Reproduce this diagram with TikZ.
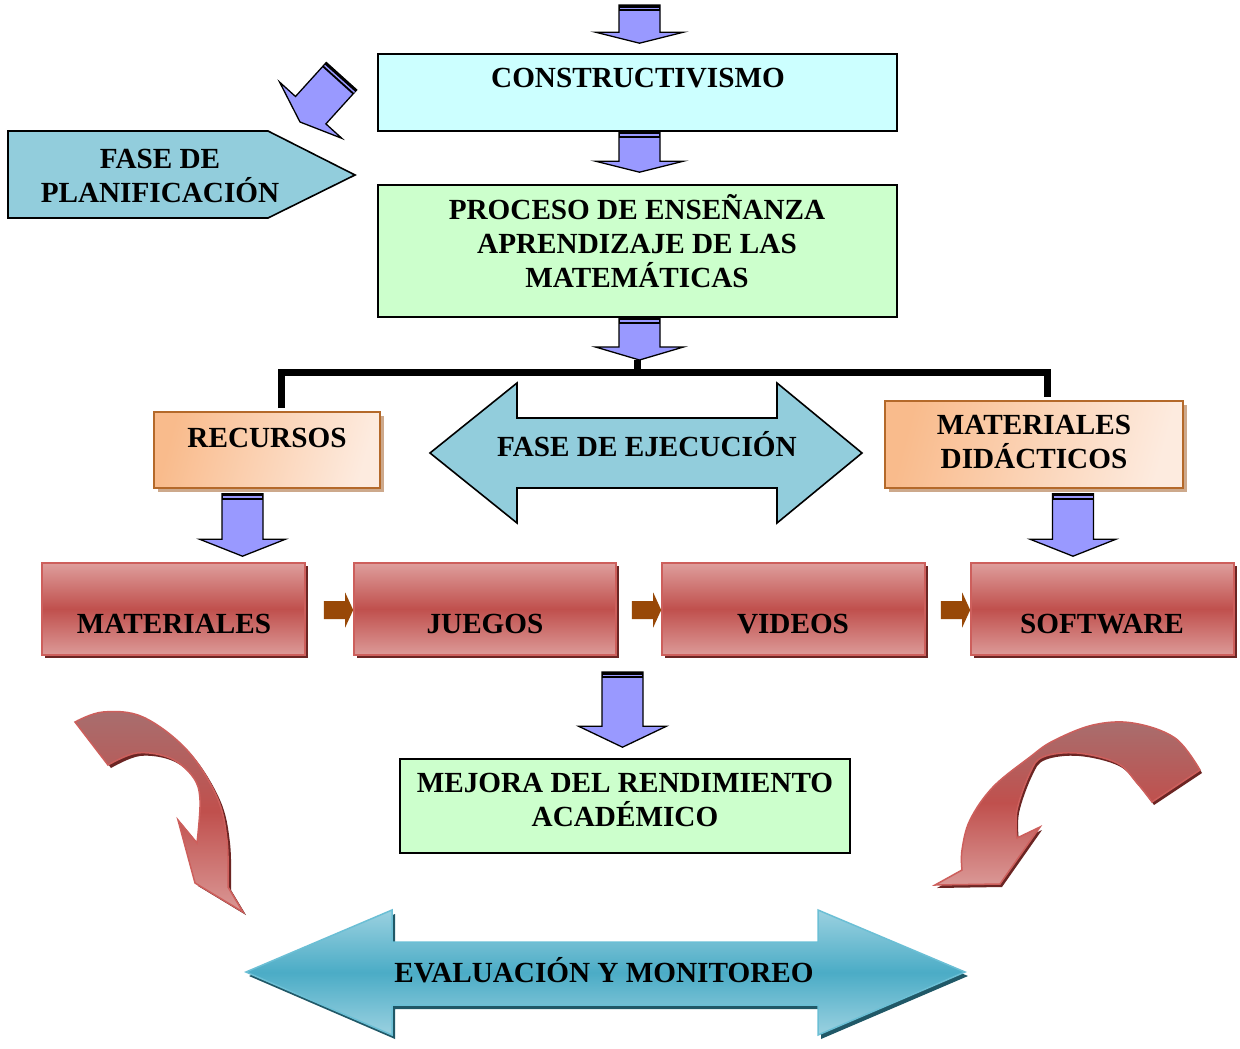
\documentclass[tikz,border=0pt]{standalone}
\usepackage{fontspec}
\setmainfont{Liberation Serif}
\usetikzlibrary{calc,shadows}
\definecolor{arrblue}{HTML}{9999FF}
\definecolor{cyanbox}{HTML}{CCFFFF}
\definecolor{greenbox}{HTML}{CCFFCC}
\definecolor{tealfill}{HTML}{92CDDC}
\definecolor{brownarr}{HTML}{984807}
\definecolor{orA}{HTML}{F9BB8C}
\definecolor{orB}{HTML}{FDEBDF}
\definecolor{orline}{HTML}{B4692A}
\definecolor{orshadow}{HTML}{CDA98C}
\definecolor{redtop}{HTML}{DE9E9C}
\definecolor{redmid}{HTML}{C0504D}
\definecolor{redbot}{HTML}{DC9A98}
\definecolor{redline}{HTML}{CD5F5C}
\definecolor{redshadow}{HTML}{6B2523}
\definecolor{curvetop}{HTML}{A86E6E}
\definecolor{curvebot}{HTML}{DA9896}
\definecolor{evtop}{HTML}{9BD1E0}
\definecolor{evmid}{HTML}{4BACC6}
\definecolor{evline}{HTML}{6BBFD5}
\definecolor{evshadow}{HTML}{205867}

\newcommand\vblockarrow[4]{%
  \draw[blockarr] let \p1=#1, \p2=#2 in
    (\x1-20.5bp,\y1) -- (\x1+20.5bp,\y1) -- (\x1+20.5bp,\y2+#3) -- (\x1+#4,\y2+#3)
    -- (\x1,\y2) -- (\x1-#4,\y2+#3) -- (\x1-20.5bp,\y2+#3) -- cycle;
  \fill let \p1=#1 in (\x1-20.5bp,\y1) rectangle (\x1+20.5bp,\y1-6bp);
  \draw[arrblue, line width=1.4bp] let \p1=#1 in (\x1-19.5bp,\y1-3.3bp) -- (\x1+19.5bp,\y1-3.3bp);
}
\newcommand\hsmallarrow[2]{%
  \fill[brownarr] let \p1=#1, \p2=#2 in
    (\x1,\y1+9bp) -- (\x2-8bp,\y1+9bp) -- (\x2-8bp,\y1+17.5bp) -- (\x2,\y1)
    -- (\x2-8bp,\y1-17.5bp) -- (\x2-8bp,\y1-9bp) -- (\x1,\y1-9bp) -- cycle;
}
\newcommand\evshape{(246,972) -- (392,910) -- (392,942) -- (818,942) -- (818,910) -- (965,972) -- (818,1035) -- (818,1005) -- (392,1005) -- (392,1035) -- cycle}
\newcommand\lcurve{plot[smooth,tension=0.6] coordinates {(75,722) (103,712) (143,717) (187,750) (217,797) (227,840) (228,887)} -- (243,912) -- (195,883) -- (178,820) -- (197,843) -- plot[smooth,tension=0.6] coordinates {(197,843) (200,800) (193,777) (170,758) (137,753) (108,765)} -- cycle}
\newcommand\rcurve{plot[smooth,tension=0.6] coordinates {(1200,770) (1175,738) (1133,723) (1093,725) (1053,741) (1030,757) (993,787) (970,820) (962,850) (962,870)} -- (935,885) -- (1000,884) -- (1040,827) -- (1017,838) -- plot[smooth,tension=0.6] coordinates {(1017,838) (1017,810) (1030,773) (1043,757) (1077,753) (1117,763) (1137,783) (1152,802)} -- cycle}

\tikzset{
 txt/.style={font=\bfseries\fontsize{29.2bp}{34bp}\selectfont, align=center, inner sep=0pt, text=black},
 plainbox/.style={draw=black, line width=1.6bp, inner sep=0pt},
 redbox/.style={draw=redline, line width=1.6bp, top color=redtop, bottom color=redbot, middle color=redmid, minimum height=92bp, inner sep=0pt, drop shadow={shadow xshift=3bp, shadow yshift=-3bp, fill=redshadow, opacity=1}},
 orbox/.style={draw=orline, line width=1.6bp, left color=orA, right color=orB, shading angle=75, inner sep=0pt, drop shadow={shadow xshift=4bp, shadow yshift=-4bp, fill=orshadow, opacity=1}},
 blockarr/.style={draw=black, line width=1.3bp, fill=arrblue, line join=miter},
 bracket/.style={line width=7bp, line join=miter},
}

\begin{document}
\begin{tikzpicture}[x=1bp,y=-1bp]
\fill[white] (0,0) rectangle (1240,1049);
\useasboundingbox (0,0) rectangle (1240,1049);

% boxes
\node[plainbox, fill=cyanbox, minimum width=519bp, minimum height=77bp] (cons) at (637.5,92.5) {};
\node[plainbox, fill=greenbox, minimum width=519bp, minimum height=132bp] (proc) at (637.5,251) {};
\node[plainbox, fill=greenbox, minimum width=450bp, minimum height=94bp] (mej) at (625,806) {};

\coordinate (hub) at (637,372);
\node[orbox, minimum width=226bp, minimum height=76bp] (rec) at (267,450) {};
\node[orbox, minimum width=298bp, minimum height=87bp] (md) at (1034,444.5) {};
% bracket
\draw[bracket] ($(rec.north)+(14,-3)$) |- (hub) -| ($(md.north)+(13,-3)$);
\draw[bracket] (hub) -- ++(0,-12);

\node[redbox, minimum width=263bp] (mat) at (173.5,609) {};
\node[redbox, minimum width=262bp] (jue) at (485,609) {};
\node[redbox, minimum width=263bp] (vid) at (793.5,609) {};
\node[redbox, minimum width=263bp] (sof) at (1102.5,609) {};

% small brown arrows
\hsmallarrow{($(mat.east)+(18,1)$)}{(jue.west)}
\hsmallarrow{($(jue.east)+(15,1)$)}{(vid.west)}
\hsmallarrow{($(vid.east)+(15,1)$)}{(sof.west)}

% blue block arrows
\coordinate (topstart) at (639.5,5);
\coordinate (mejstart) at (622.5,672);
\vblockarrow{(topstart)}{($(cons.north)+(0,-10)$)}{11bp}{44bp}
\vblockarrow{($(cons.south)+(2,0)$)}{($(proc.north)+(0,-12)$)}{11bp}{44bp}
\vblockarrow{($(proc.south)+(2,0)$)}{($(hub)+(0,-12)$)}{13bp}{44bp}
\vblockarrow{($(rec.south)+(-24.5,5)$)}{($(mat.north)+(0,-6)$)}{17bp}{43bp}
\vblockarrow{($(md.south)+(39,5)$)}{($(sof.north)+(0,-6)$)}{17bp}{43bp}
\vblockarrow{(mejstart)}{($(mej.north)+(0,-11)$)}{21bp}{44bp}

% diagonal arrow
\draw[blockarr] (356.7,89.9) -- (326.3,62.5) -- (295.5,96.5) -- (279.6,82.1) -- (300,122) -- (341.8,138.3) -- (325.9,123.9) -- cycle;
\fill (356.7,89.9) -- (326.3,62.5) -- (322.3,66.9) -- (352.7,94.3) -- cycle;
\draw[arrblue, line width=1.4bp] (324.6,65.4) -- (354.5,92.3);

% planning pentagon
\draw[fill=tealfill, line width=1.6bp, line join=miter] (8,131) -- (268,131) -- (355,175) -- (268,218) -- (8,218) -- cycle;

% execution double arrow
\draw[fill=tealfill, line width=1.6bp, line join=miter] (430,453) -- (517,383) -- (517,418) -- (777,418) -- (777,383) -- (862,453) -- (777,523) -- (777,488) -- (517,488) -- (517,523) -- cycle;

% curved arrows
\fill[redshadow, shift={(3,3)}] \lcurve;
\path[draw=redline, line width=1.5bp, top color=curvetop, bottom color=curvebot, middle color=redmid] \lcurve;
\fill[redshadow, shift={(2,3)}] \rcurve;
\path[draw=redline, line width=1.5bp, top color=curvetop, bottom color=curvebot, middle color=redmid] \rcurve;

% evaluation arrow
\fill[evshadow, shift={(3,4)}] \evshape;
\path[draw=evline, line width=1.5bp, top color=evtop, bottom color=evtop, middle color=evmid] \evshape;

% texts
\node[txt] (tcons) at (638,78) {CONSTRUCTIVISMO};
\node[txt] (tproc) at (637,241) {PROCESO DE ENSEÑANZA\\APRENDIZAJE DE LAS\\MATEMÁTICAS};
\node[txt] (tplan) at (160,176) {FASE DE\\PLANIFICACIÓN};
\node[txt] (trec) at (267,438) {RECURSOS};
\node[txt] (teje) at (647,444) {FASE DE EJECUCIÓN};
\node[txt] (tmd) at (1034,442) {MATERIALES\\DIDÁCTICOS};
\node[txt] (tmat) at (174,624) {MATERIALES};
\node[txt] (tjue) at (485,624) {JUEGOS};
\node[txt] (tvid) at (793,624) {VIDEOS};
\node[txt] (tsof) at (1102,624) {SOFTWARE};
\node[txt] (tmej) at (625,800) {MEJORA DEL RENDIMIENTO\\ACADÉMICO};
\node[txt] (tev) at (604,970) {EVALUACIÓN Y MONITOREO};
\end{tikzpicture}
\end{document}
